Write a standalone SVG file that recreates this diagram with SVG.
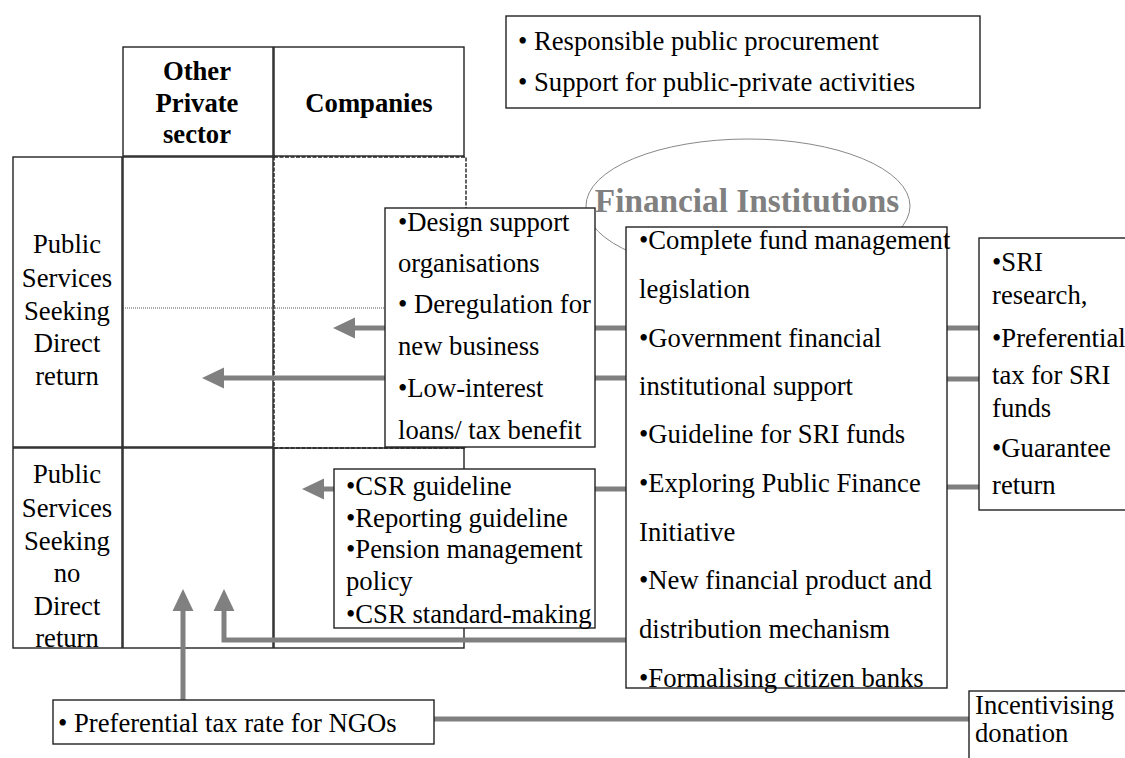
<svg xmlns="http://www.w3.org/2000/svg" width="1125" height="758" viewBox="0 0 1125 758">
<style>
.box{fill:#fff;stroke:#222;stroke-width:1.4}
.cell{fill:none;stroke:#222;stroke-width:1.4}
.dash{fill:none;stroke:#222;stroke-width:1.4;stroke-dasharray:4 1.5}
.t{font-family:"Liberation Serif","Times New Roman",serif;font-size:26.67px;fill:#000}
.b{font-weight:bold}
.m{text-anchor:middle}
.c{fill:none;stroke:#808080;stroke-width:5}
.title{font-family:"Liberation Serif","Times New Roman",serif;font-size:33.3px;font-weight:bold;fill:#808080;text-anchor:middle}
</style>
<defs>
<marker id="ah" markerUnits="userSpaceOnUse" markerWidth="22" markerHeight="22" viewBox="0 -10 20 20" refX="0" refY="0" orient="auto">
<path d="M0,-9.5 L20,0 L0,9.5 z" fill="#808080"/>
</marker>
</defs>
<rect width="1125" height="758" fill="#fff"/>

<g id="grid">
<rect class="box" x="123" y="47" width="150" height="109"/>
<rect class="box" x="274" y="47" width="190" height="109"/>
<rect class="box" x="13" y="157" width="109" height="290"/>
<rect class="cell" x="123" y="157" width="150" height="290"/>
<rect class="dash" x="274" y="157" width="192" height="291"/>
<line x1="123" y1="308" x2="466" y2="308" stroke="#555" stroke-width="1" stroke-dasharray="1 1"/>
<rect class="box" x="13" y="448" width="109" height="200"/>
<rect class="cell" x="123" y="448" width="150" height="200"/>
<rect class="cell" x="274" y="448" width="190" height="200"/>
<text class="t b m" x="197" y="80">Other</text>
<text class="t b m" x="197" y="112">Private</text>
<text class="t b m" x="197" y="143">sector</text>
<text class="t b m" x="369" y="112">Companies</text>
<text class="t m" x="67" y="253">Public</text>
<text class="t m" x="67" y="287">Services</text>
<text class="t m" x="67" y="320">Seeking</text>
<text class="t m" x="67" y="352">Direct</text>
<text class="t m" x="67" y="385">return</text>
<text class="t m" x="67" y="483">Public</text>
<text class="t m" x="67" y="517">Services</text>
<text class="t m" x="67" y="550">Seeking</text>
<text class="t m" x="67" y="582">no</text>
<text class="t m" x="67" y="615">Direct</text>
<text class="t m" x="67" y="647">return</text>
</g>

<g id="fi-ellipse">
<ellipse cx="748" cy="206" rx="162" ry="67" fill="none" stroke="#888" stroke-width="1"/>
</g>

<g id="connectors">
<path class="c" d="M385,328 H355" marker-end="url(#ah)"/>
<path class="c" d="M385,378 H224" marker-end="url(#ah)"/>
<path class="c" d="M334,489 H324" marker-end="url(#ah)"/>
<path class="c" d="M626,640 H224 V611" marker-end="url(#ah)"/>
<path class="c" d="M183,700 V611" marker-end="url(#ah)"/>
<path class="c" d="M595,328 H626 M595,378 H626 M595,489 H626"/>
<path class="c" d="M947,328 H979 M947,379 H979 M947,487 H979"/>
<path class="c" d="M434,719 H969"/>
</g>

<g id="top-box">
<rect class="box" x="506" y="16" width="474" height="92"/>
<text class="t" x="518" y="50">• Responsible public procurement</text>
<text class="t" x="518" y="91">• Support for public-private activities</text>
</g>

<g id="design-box">
<rect class="box" x="385" y="208" width="210" height="239"/>
<text class="t" x="398" y="231">•Design support</text>
<text class="t" x="398" y="272">organisations</text>
<text class="t" x="398" y="313">• Deregulation for</text>
<text class="t" x="398" y="355">new business</text>
<text class="t" x="398" y="397">•Low-interest</text>
<text class="t" x="398" y="439">loans/ tax benefit</text>
</g>

<g id="central-box">
<rect class="box" x="626" y="227" width="321" height="461"/>
<text class="t" x="639" y="249">•Complete fund management</text>
<text class="t" x="639" y="298"> legislation</text>
<text class="t" x="639" y="347">•Government financial</text>
<text class="t" x="639" y="395">institutional support</text>
<text class="t" x="639" y="443">•Guideline for SRI funds</text>
<text class="t" x="639" y="492">•Exploring Public Finance</text>
<text class="t" x="639" y="541">Initiative</text>
<text class="t" x="639" y="589">•New financial product and</text>
<text class="t" x="639" y="638">distribution mechanism</text>
<text class="t" x="639" y="687">•Formalising citizen banks</text>
</g>

<g id="sri-box">
<rect class="box" x="979" y="238" width="160" height="272"/>
<text class="t" x="992" y="271">•SRI</text>
<text class="t" x="992" y="304">research,</text>
<text class="t" x="992" y="347">•Preferential</text>
<text class="t" x="992" y="384">tax for SRI</text>
<text class="t" x="992" y="417">funds</text>
<text class="t" x="992" y="457">•Guarantee</text>
<text class="t" x="992" y="494">return</text>
</g>

<g id="csr-box">
<rect class="box" x="334" y="469" width="261" height="159"/>
<text class="t" x="346" y="495">•CSR guideline</text>
<text class="t" x="346" y="527">•Reporting guideline</text>
<text class="t" x="346" y="558">•Pension management</text>
<text class="t" x="346" y="590">policy</text>
<text class="t" x="346" y="623">•CSR standard-making</text>
</g>

<g id="ngo-box">
<rect class="box" x="53" y="700" width="381" height="44"/>
<text class="t" x="58" y="732"> • Preferential tax rate for NGOs</text>
</g>

<g id="donation-box">
<rect class="box" x="969" y="691" width="170" height="80"/>
<text class="t" x="975" y="714">Incentivising</text>
<text class="t" x="975" y="742">donation</text>
</g>

<g id="fi-title">
<text class="title" x="747" y="212">Financial Institutions</text>
</g>
</svg>
